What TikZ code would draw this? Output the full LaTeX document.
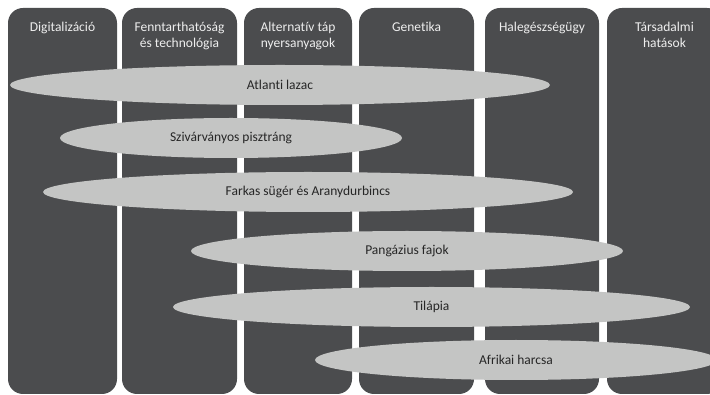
\documentclass[tikz,border=0pt]{standalone}
\usepackage{fontspec}
\setmainfont{Carlito}[Ligatures=NoCommon]
\usetikzlibrary{shapes.geometric}
\definecolor{colgrey}{HTML}{4B4C4E}
\definecolor{fishgrey}{HTML}{C4C5C4}
\definecolor{headtext}{HTML}{EEEEEE}
\definecolor{fishtext}{HTML}{262626}

\begin{document}
\begin{tikzpicture}[x=1pt,y=-1pt,
  column/.style={rectangle,rounded corners=15pt,fill=colgrey,minimum height=386pt,inner sep=0pt},
  header/.style={anchor=north,align=center,inner sep=0pt,text=headtext,font=\fontsize{13.5}{16.5}\selectfont},
  fish/.style={ellipse,fill=fishgrey,minimum height=40pt,inner sep=0pt,text=fishtext,font=\fontsize{13.5}{16.5}\selectfont}]

  \useasboundingbox (0,0) rectangle (710,395);
  \clip (0,0) rectangle (710,395);

  % columns
  \node[column,minimum width=109pt] (c1) at (62.5,201) {};
  \node[column,minimum width=115pt] (c2) at (179.5,201) {};
  \node[column,minimum width=108pt] (c3) at (298,201) {};
  \node[column,minimum width=115pt] (c4) at (416.5,201) {};
  \node[column,minimum width=114pt] (c5) at (542,201) {};
  \node[column,minimum width=115pt] (c6) at (664.5,201) {};

  % headers
  \node[header] (h1) at (62.5,19.5) {\strut Digitalizáció};
  \node[header] (h2) at (179.5,19.5) {\strut Fenntarthatóság\\és technológia};
  \node[header] (h3) at (298,19.5) {\strut Alternatív táp\\nyersanyagok};
  \node[header] (h4) at (416.5,19.5) {\strut Genetika};
  \node[header] (h5) at (542,19.5) {\strut Halegészségügy};
  \node[header] (h6) at (664.5,19.5) {\strut Társadalmi\\hatások};

  % species
  \node[fish,minimum width=540pt] (lazac) at (280,85) {Atlanti lazac};
  \node[fish,minimum width=342pt] (pisztrang) at (231,138) {Szivárványos pisztráng};
  \node[fish,minimum width=530pt] (suger) at (308,192) {Farkas sügér és Aranydurbincs};
  \node[fish,minimum width=432pt] (pangazius) at (407,251) {Pangázius fajok};
  \node[fish,minimum width=517pt] (tilapia) at (431.5,307) {Tilápia};
  \node[fish,minimum width=402pt] (harcsa) at (516,360) {Afrikai harcsa};

\end{tikzpicture}
\end{document}
